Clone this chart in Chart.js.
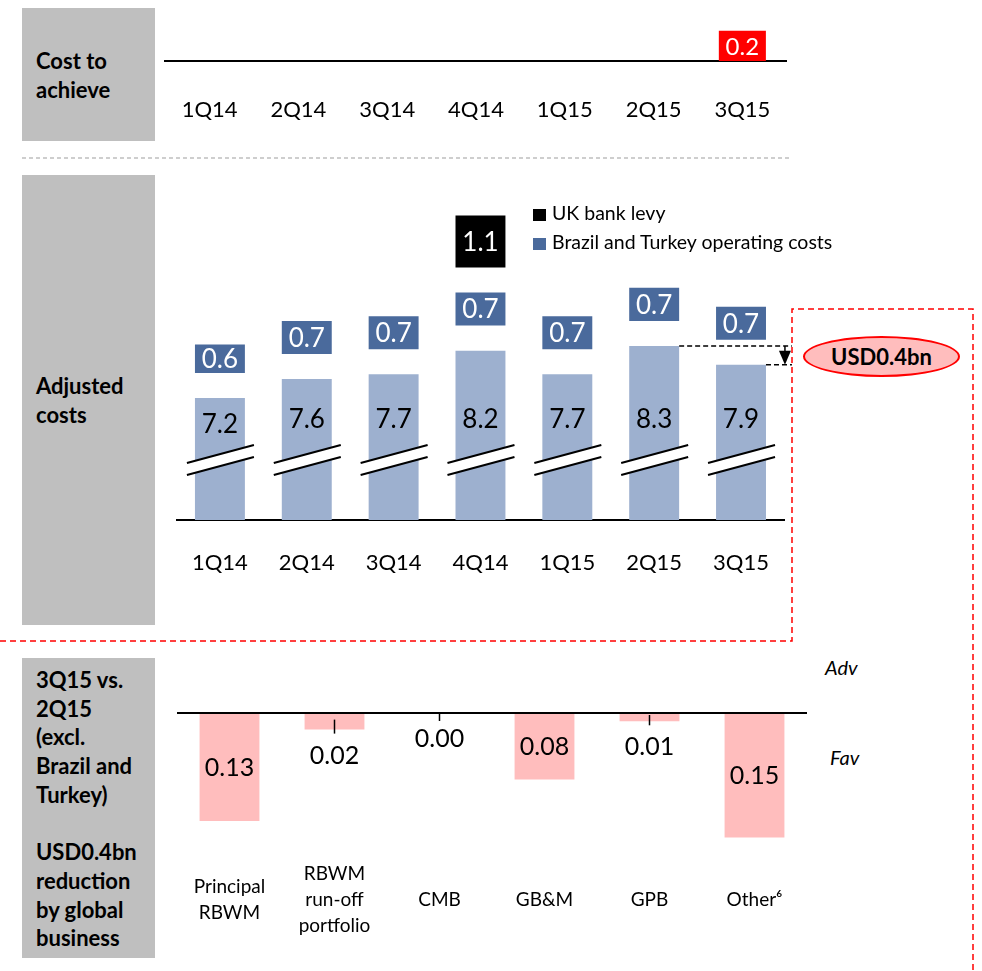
<!DOCTYPE html>
<html>
<head>
<meta charset="utf-8">
<script src="https://cdn.jsdelivr.net/npm/chart.js@4.4.0/dist/chart.umd.min.js"></script>
<style>
  html, body { margin: 0; padding: 0; background: #fff; }
  body { width: 982px; height: 971px; position: relative; overflow: hidden; font-family: Lato, "Open Sans", sans-serif; color: #000; }
  .side { position: absolute; left: 22px; width: 133px; background: #BFBFBF; font-weight: bold; font-size: 22px; line-height: 29px; box-sizing: border-box; padding-left: 14px; }
  canvas { position: absolute; }
  .legend { position: absolute; left: 533px; font-size: 19.5px; line-height: 20px; }
  .legend span { display: inline-block; width: 13px; height: 12px; margin-right: 6px; vertical-align: -1px; }
  .note { position: absolute; font-style: italic; font-size: 20px; }
  #pill { position: absolute; left: 803px; top: 336px; width: 157px; height: 41px; box-sizing: border-box; border: 2px solid #FF0000; border-radius: 50%; background: #FFBDBD; font-weight: bold; font-size: 22px; line-height: 37px; text-align: center; }
  svg { position: absolute; left: 0; top: 0; }
</style>
</head>
<body>
<div class="side" style="top:8px;height:133px;padding-top:38px;">Cost to<br>achieve</div>
<div class="side" style="top:175px;height:450px;padding-top:196px;">Adjusted<br>costs</div>
<div class="side" style="top:658px;height:300px;padding-top:8px;line-height:28.7px;">3Q15 vs.<br>2Q15<br>(excl.<br>Brazil and<br>Turkey)<br><br>USD0.4bn<br>reduction<br>by global<br>business</div>

<svg width="982" height="971">
  <line x1="22" y1="158" x2="790" y2="158" stroke="#BFBFBF" stroke-width="1.5" stroke-dasharray="4,3"/>
  <polyline points="0,641 792,641 792,309 973,309 973,971" fill="none" stroke="#FF0000" stroke-width="1.5" stroke-dasharray="6,4"/>
</svg>

<canvas id="cta" width="658" height="130" style="left:147px;top:10px;"></canvas>
<canvas id="adj" width="640" height="450" style="left:160px;top:160px;"></canvas>
<canvas id="biz" width="660" height="270" style="left:160px;top:690px;"></canvas>

<div class="legend" style="top:203px;"><span style="background:#000"></span>UK bank levy</div>
<div class="legend" style="top:232px;"><span style="background:#4A6A9C"></span>Brazil and Turkey operating costs</div>
<div id="pill">USD0.4bn</div>
<div class="note" style="left:825px;top:655px;">Adv</div>
<div class="note" style="left:830px;top:745px;">Fav</div>

<script>
// données
const quarters = ['1Q14', '2Q14', '3Q14', '4Q14', '1Q15', '2Q15', '3Q15'];
const costToAchieve = [null, null, null, null, null, null, 0.2];
const adjustedCosts = [7.2, 7.6, 7.7, 8.2, 7.7, 8.3, 7.9];
const brazilTurkeyCosts = [0.6, 0.7, 0.7, 0.7, 0.7, 0.7, 0.7];
const ukBankLevy = [null, null, null, 1.1, null, null, null];
const businesses = [['Principal', 'RBWM'], ['RBWM', 'run-off', 'portfolio'], 'CMB', 'GB&M', 'GPB', 'Other⁶'];
const reduction = [0.13, 0.02, 0.00, 0.08, 0.01, 0.15];

Chart.defaults.font.family = 'Lato, "Open Sans", sans-serif';
Chart.defaults.color = '#000';

const BLUE_LIGHT = '#9DB0CF';
const BLUE_DARK = '#4A6A9C';
const GAP = 0.53; // espace entre la barre et les étiquettes empilées

// Cost to achieve
const ctaLabels = {
    id: 'ctaLabels',
    afterDatasetsDraw(chart) {
        const ctx = chart.ctx;
        ctx.save();
        ctx.font = '24px Lato';
        ctx.fillStyle = '#fff';
        ctx.textAlign = 'center';
        ctx.textBaseline = 'middle';
        chart.getDatasetMeta(0).data.forEach((bar, i) => {
            if (costToAchieve[i] == null) return;
            ctx.fillText(costToAchieve[i].toFixed(1), bar.x, (bar.y + bar.base) / 2 + 1);
        });
        ctx.restore();
    }
};

new Chart(document.getElementById('cta'), {
    type: 'bar',
    data: {
        labels: quarters,
        datasets: [{ data: costToAchieve, backgroundColor: '#FF0000', barPercentage: 0.53, categoryPercentage: 1 }]
    },
    options: {
        responsive: false,
        animation: false,
        devicePixelRatio: 1,
        layout: { padding: { left: 0, right: 0, top: 10, bottom: 0 } },
        plugins: { legend: { display: false }, tooltip: { enabled: false } },
        scales: {
            x: {
                grid: { display: false, drawTicks: false },
                border: { color: '#000', width: 2 },
                ticks: { font: { size: 22 }, padding: 36, color: '#000' },
                afterFit: (s) => { s.height = 79; }
            },
            y: { display: false, min: 0, max: 0.27 }
        }
    },
    plugins: [ctaLabels]
});

// Adjusted costs : boîtes flottantes au-dessus des barres
const btFloat = adjustedCosts.map((v, i) => [v + GAP, v + GAP + brazilTurkeyCosts[i]]);
const levyFloat = ukBankLevy.map((v, i) => v == null ? null : [btFloat[i][1] + GAP, btFloat[i][1] + GAP + v]);

const adjDecor = {
    id: 'adjDecor',
    afterDatasetsDraw(chart) {
        const ctx = chart.ctx;
        const area = chart.chartArea;
        const bars = chart.getDatasetMeta(0).data;
        ctx.save();

        // coupures d'axe
        const yc = area.bottom - 60;
        bars.forEach(bar => {
            const x0 = bar.x - 33, x1 = bar.x + 34;
            ctx.fillStyle = '#fff';
            ctx.beginPath();
            ctx.moveTo(x0, yc + 3);
            ctx.lineTo(x1, yc - 15);
            ctx.lineTo(x1, yc - 3);
            ctx.lineTo(x0, yc + 15);
            ctx.closePath();
            ctx.fill();
            ctx.strokeStyle = '#000';
            ctx.lineWidth = 2;
            ctx.beginPath();
            ctx.moveTo(x0, yc + 3); ctx.lineTo(x1, yc - 15);
            ctx.moveTo(x0, yc + 15); ctx.lineTo(x1, yc - 3);
            ctx.stroke();
        });

        // valeurs
        ctx.textAlign = 'center';
        ctx.textBaseline = 'middle';
        ctx.font = '26px Lato';
        ctx.fillStyle = '#000';
        bars.forEach((bar, i) => {
            ctx.fillText(adjustedCosts[i].toFixed(1), bar.x, Math.max(bar.y + 27, area.bottom - 100));
        });
        ctx.fillStyle = '#fff';
        chart.getDatasetMeta(1).data.forEach((bar, i) => {
            ctx.fillText(brazilTurkeyCosts[i].toFixed(1), bar.x, (bar.y + bar.base) / 2 + 1);
        });
        chart.getDatasetMeta(2).data.forEach((bar, i) => {
            if (ukBankLevy[i] == null) return;
            ctx.fillText(ukBankLevy[i].toFixed(1), bar.x, (bar.y + bar.base) / 2 + 1);
        });

        // écart 2Q15 -> 3Q15
        const b5 = bars[5], b6 = bars[6];
        const xEnd = area.right + 7.5;
        const xArrow = area.right + 0.5;
        ctx.strokeStyle = '#000';
        ctx.lineWidth = 1.5;
        ctx.setLineDash([5, 3]);
        ctx.beginPath();
        ctx.moveTo(b5.x + b5.width / 2, b5.y); ctx.lineTo(xEnd, b5.y);
        ctx.moveTo(b6.x + b6.width / 2, b6.y); ctx.lineTo(xEnd, b6.y);
        ctx.stroke();
        ctx.setLineDash([]);
        ctx.beginPath();
        ctx.moveTo(xArrow, b5.y); ctx.lineTo(xArrow, b6.y - 10);
        ctx.stroke();
        ctx.fillStyle = '#000';
        ctx.beginPath();
        ctx.moveTo(xArrow - 6, b6.y - 14);
        ctx.lineTo(xArrow + 6, b6.y - 14);
        ctx.lineTo(xArrow, b6.y);
        ctx.closePath();
        ctx.fill();
        ctx.restore();
    }
};

new Chart(document.getElementById('adj'), {
    type: 'bar',
    data: {
        labels: quarters,
        datasets: [
            { label: 'Adjusted costs', data: adjustedCosts, backgroundColor: BLUE_LIGHT },
            { label: 'Brazil and Turkey operating costs', data: btFloat, backgroundColor: BLUE_DARK },
            { label: 'UK bank levy', data: levyFloat, backgroundColor: '#000' }
        ]
    },
    options: {
        responsive: false,
        animation: false,
        devicePixelRatio: 1,
        datasets: { bar: { grouped: false, barPercentage: 0.575, categoryPercentage: 1 } },
        layout: { padding: { left: 16.5, right: 14.5, top: 10, bottom: 0 } },
        plugins: { legend: { display: false }, tooltip: { enabled: false } },
        scales: {
            x: {
                grid: { display: false, drawTicks: false },
                border: { color: '#000', width: 2 },
                ticks: { font: { size: 22 }, padding: 30, color: '#000' },
                afterFit: (s) => { s.height = 90; }
            },
            y: { display: false, min: 4.62, max: 12.02 }
        }
    },
    plugins: [adjDecor]
});

// 3Q15 vs 2Q15 par métier
const bizLabels = {
    id: 'bizLabels',
    afterDatasetsDraw(chart) {
        const ctx = chart.ctx;
        ctx.save();
        ctx.font = '25px Lato';
        ctx.fillStyle = '#000';
        ctx.textAlign = 'center';
        ctx.textBaseline = 'middle';
        chart.getDatasetMeta(0).data.forEach((bar, i) => {
            const top = Math.min(bar.y, bar.base);
            const bottom = Math.max(bar.y, bar.base);
            const txt = reduction[i].toFixed(2);
            if (bottom - top > 40) {
                ctx.fillText(txt, bar.x, (top + bottom) / 2);
            } else {
                const y0 = Math.max(top + 1, bottom - 10);
                const y1 = Math.max(bottom + 4, y0 + 7);
                ctx.strokeStyle = '#000';
                ctx.lineWidth = 1.5;
                ctx.beginPath();
                ctx.moveTo(bar.x, y0);
                ctx.lineTo(bar.x, y1);
                ctx.stroke();
                ctx.fillText(txt, bar.x, bottom + 26);
            }
        });
        ctx.restore();
    }
};

new Chart(document.getElementById('biz'), {
    type: 'bar',
    data: {
        labels: businesses,
        datasets: [{ data: reduction, backgroundColor: '#FFBDBD', barPercentage: 0.57, categoryPercentage: 1 }]
    },
    options: {
        responsive: false,
        animation: false,
        devicePixelRatio: 1,
        layout: { padding: { left: 17, right: 13, top: 23, bottom: 0 } },
        plugins: { legend: { display: false }, tooltip: { enabled: false } },
        scales: {
            x: {
                grid: { display: false, drawTicks: false },
                border: { display: false },
                ticks: { font: { size: 19, lineHeight: 1.37 }, padding: 24, color: '#000', crossAlign: 'center', maxRotation: 0, autoSkip: false },
                afterFit: (s) => { s.height = 110; }
            },
            y: {
                reverse: true,
                min: 0,
                max: 0.165,
                ticks: { display: false },
                border: { display: false },
                grid: {
                    drawTicks: false,
                    lineWidth: 2,
                    color: (c) => c.tick && c.tick.value === 0 ? '#000' : 'rgba(0,0,0,0)'
                },
                afterFit: (s) => { s.width = 0; }
            }
        }
    },
    plugins: [bizLabels]
});
</script>
</body>
</html>
